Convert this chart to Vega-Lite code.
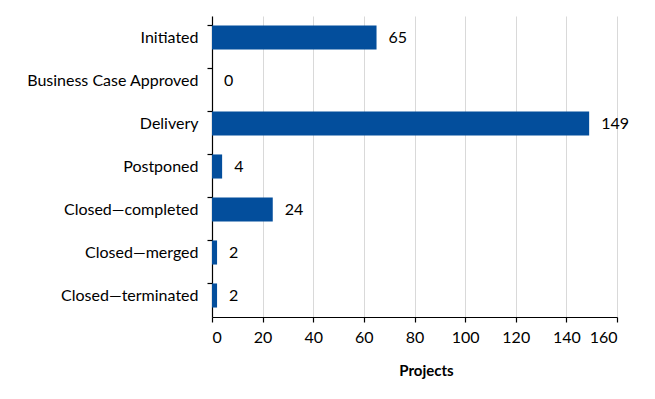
{
  "$schema": "https://vega.github.io/schema/vega-lite/v6.json",
  "autosize": "none",
  "width": 405,
  "height": 301,
  "padding": {"left": 212, "top": 16, "right": 38, "bottom": 82},
  "background": "white",
  "config": {
    "view": {"stroke": null},
    "font": "Lato",
    "axis": {"labelFont": "Lato", "titleFont": "Lato", "labelColor": "#000000", "titleColor": "#000000", "domainColor": "#000000", "tickColor": "#000000"}
  },
  "data": {
    "values": [
      {"stage": "Initiated", "projects": 65},
      {"stage": "Business Case Approved", "projects": 0},
      {"stage": "Delivery", "projects": 149},
      {"stage": "Postponed", "projects": 4},
      {"stage": "Closed\u2014completed", "projects": 24},
      {"stage": "Closed\u2014merged", "projects": 2},
      {"stage": "Closed\u2014terminated", "projects": 2}
    ]
  },
  "encoding": {
    "y": {
      "field": "stage",
      "type": "nominal",
      "sort": null,
      "scale": {"paddingInner": 0.44, "paddingOuter": 0.22},
      "axis": {
        "title": null,
        "bandPosition": 0,
        "grid": false,
        "labelFontSize": 16,
        "labelPadding": 9,
        "tickSize": 5,
        "domainWidth": 1.2,
        "tickWidth": 1.2
      }
    },
    "x": {
      "field": "projects",
      "type": "quantitative",
      "scale": {"domain": [0, 160]},
      "axis": {
        "title": "Projects",
        "values": [0, 20, 40, 60, 80, 100, 120, 140, 160],
        "grid": true,
        "gridColor": "#d9d9d9",
        "gridWidth": 1,
        "labelFontSize": 16,
        "labelPadding": 7,
        "tickSize": 5,
        "domainWidth": 1.2,
        "tickWidth": 1.2,
        "titleFontSize": 15,
        "titleFontWeight": "bold",
        "titlePadding": 18,
        "titleX": 214
      }
    }
  },
  "layer": [
    {"mark": {"type": "bar", "color": "#034e9c"}},
    {
      "mark": {"type": "text", "align": "left", "baseline": "middle", "dx": 12, "fontSize": 16, "color": "#000000", "font": "Lato"},
      "encoding": {"text": {"field": "projects", "type": "quantitative"}}
    }
  ]
}
